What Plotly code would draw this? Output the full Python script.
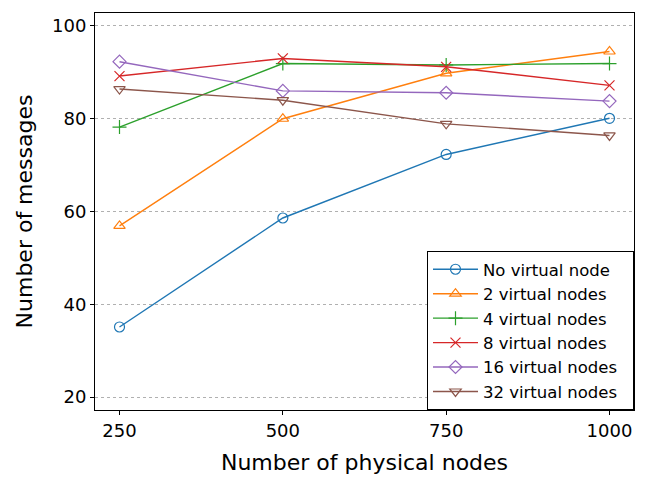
import plotly.graph_objects as go

x_nodes = [250, 500, 750, 1000]
no_virtual = [35.1, 58.6, 72.3, 80.1]
virt2 = [56.9, 80.0, 89.8, 94.5]
virt4 = [78.2, 91.9, 91.6, 91.9]
virt8 = [89.2, 93.0, 91.2, 87.2]
virt16 = [92.3, 86.0, 85.6, 83.8]
virt32 = [86.4, 84.0, 78.9, 76.4]

series = [
    ("No virtual node", no_virtual, "#1f77b4", "circle-open"),
    ("2 virtual nodes", virt2, "#ff7f0e", "triangle-up-open"),
    ("4 virtual nodes", virt4, "#2ca02c", "cross-thin-open"),
    ("8 virtual nodes", virt8, "#d62728", "x-thin-open"),
    ("16 virtual nodes", virt16, "#9467bd", "diamond-open"),
    ("32 virtual nodes", virt32, "#8c564b", "triangle-down-open"),
]

PAD = "\u00a0\u00a0"

fig = go.Figure()
for name, ys, color, sym in series:
    fig.add_trace(go.Scatter(
        x=x_nodes, y=ys, name=name + PAD, mode="lines+markers",
        line=dict(color=color, width=1.4),
        marker=dict(symbol=sym, size=10, color=color, line=dict(color=color, width=1.2)),
    ))

# page body adds an 8px offset, so the figure is drawn 8px smaller
fig.update_layout(
    width=638, height=470,
    margin=dict(l=87, r=12, t=5, b=68),
    paper_bgcolor="white", plot_bgcolor="white",
    font=dict(family="DejaVu Sans", color="black", size=18),
    showlegend=True,
    legend=dict(
        x=1, y=0, xanchor="right", yanchor="bottom",
        bordercolor="black", borderwidth=1, bgcolor="white",
        font=dict(size=16.5), tracegroupgap=0, itemwidth=45,
    ),
    xaxis=dict(
        range=[212.5, 1037.5], tickvals=x_nodes, ticktext=[str(v) for v in x_nodes],
        showline=True, linecolor="black", linewidth=1, mirror=True,
        ticks="outside", ticklen=4, tickcolor="black", showgrid=False, zeroline=False,
        automargin=False,
        title=dict(text="Number of physical nodes", font=dict(size=22), standoff=15),
        tickfont=dict(size=18),
    ),
    yaxis=dict(
        range=[17.2, 102.8], tickvals=[20, 40, 60, 80, 100],
        showline=True, linecolor="black", linewidth=1, mirror=True,
        ticks="outside", ticklen=4, tickcolor="black",
        showgrid=True, gridcolor="#b0b0b0", griddash="dot", gridwidth=0.8, zeroline=False,
        automargin=False,
        title=dict(text="Number of messages", font=dict(size=22), standoff=13),
        tickfont=dict(size=18),
    ),
)

fig.write_html("out.html")
